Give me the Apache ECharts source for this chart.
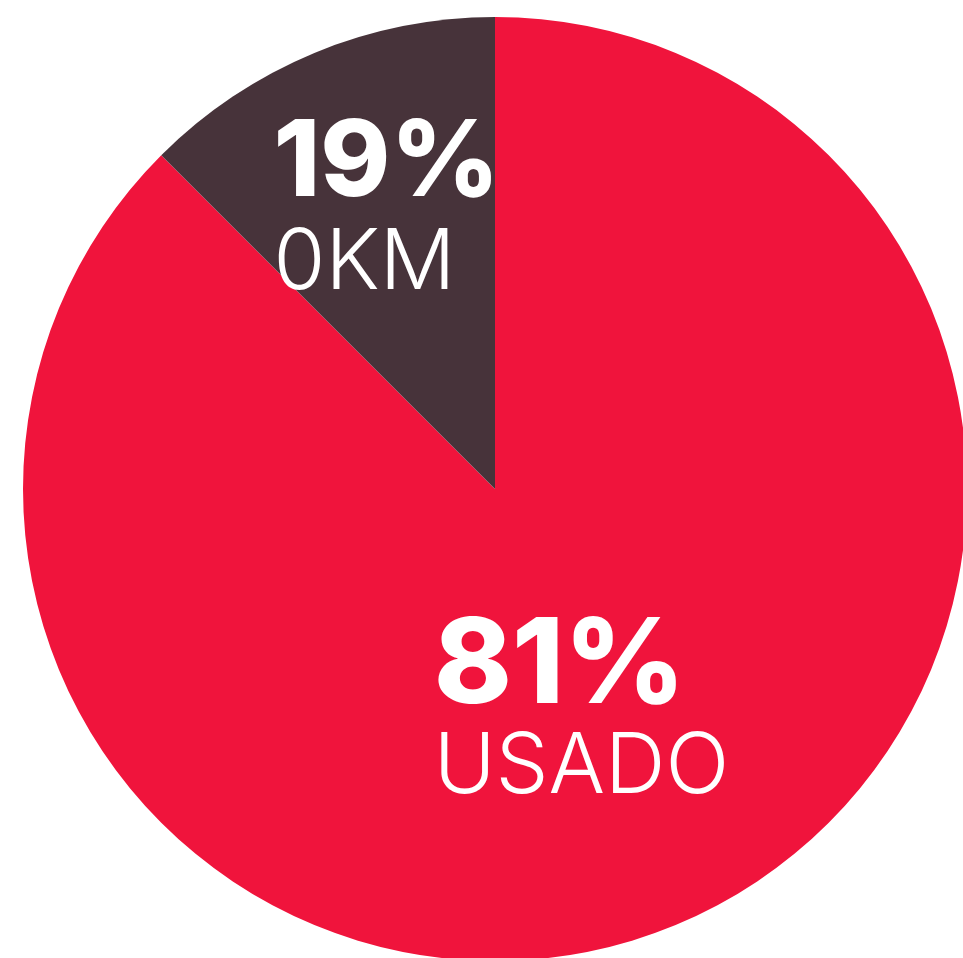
<!DOCTYPE html>
<html>
<head>
<meta charset="utf-8">
<script src="https://cdn.jsdelivr.net/npm/echarts@6/dist/echarts.min.js"></script>
<style>
  html, body { margin: 0; padding: 0; background: #fff; }
  #chart { width: 963px; height: 958px; }
</style>
</head>
<body>
<div id="chart"></div>
<script>
// categories and the percentages printed on the chart
const categories = ['USADO', '0KM']
const percentLabels = [81, 19]
// slice sizes as drawn in the picture (the dark wedge spans ~45 degrees)
const sliceShare = [87.5, 12.5]

const colors = ['#F0143C', '#47333A']

const myChart = echarts.init(document.getElementById('chart'))

const labelOffsets = [[-5, 8], [-17, -54]]
const bigSize = [118, 106]

const option = {
  animation: false,
  series: [
    {
      type: 'pie',
      center: [495, 489],
      radius: [0, 472],
      startAngle: 90,
      clockwise: true,
      silent: true,
      itemStyle: { borderWidth: 0 },
      labelLine: { show: false },
      data: categories.map((name, i) => ({
        name: name,
        value: sliceShare[i],
        itemStyle: { color: colors[i] },
        label: {
          offset: labelOffsets[i],
          rich: {
            big: { fontSize: bigSize[i], fontWeight: 800, lineHeight: 100, align: 'left' },
            small: { fontSize: 84, fontWeight: 300, lineHeight: 100, align: 'left' }
          }
        }
      })),
      label: {
        show: true,
        position: 'inside',
        color: '#fff',
        fontFamily: 'Inter',
        formatter: function (p) {
          return '{big|' + percentLabels[p.dataIndex] + '%}\n{small|' + p.name + '}'
        }
      }
    }
  ]
}

myChart.setOption(option)
window.addEventListener('resize', myChart.resize)
</script>
</body>
</html>
